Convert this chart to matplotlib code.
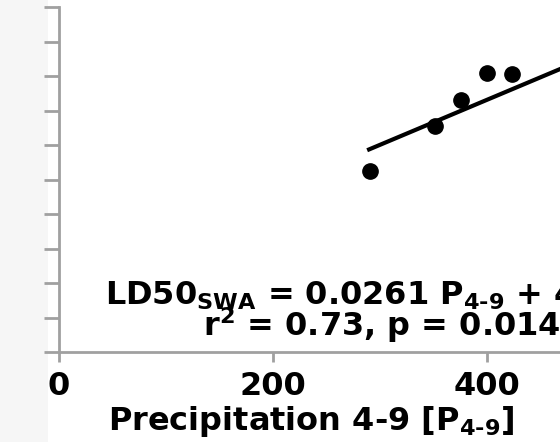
import numpy as np
import matplotlib
matplotlib.use('Agg')
import matplotlib.pyplot as plt
from matplotlib.patches import Rectangle

# precipitation Apr-Sep (mm) vs LD50 of SWA
precip = [291, 351, 376, 400, 423]
ld50 = [10.5, 13.1, 14.6, 16.2, 16.1]

slope = 0.0261
intercept = 4.18
fit_x = [288, 600]

x_ticks = [0, 200, 400, 600]
y_ticks = list(range(0, 22, 2))

eq_text = r'LD50$_{\mathregular{SWA}}$ = 0.0261 P$_{\mathregular{4\text{-}9}}$ + 4.18'
stat_text = r'r$^{\mathregular{2}}$ = 0.73, p = 0.014'
xlab = r'Precipitation 4-9 [P$_{\mathregular{4\text{-}9}}$]'

fs = 23

plt.rcParams['font.family'] = ['DejaVu Sans']
plt.rcParams['font.weight'] = 'bold'
plt.rcParams['mathtext.default'] = 'regular'

fig = plt.figure(figsize=(5.6, 4.42), dpi=100)
fig.patches.append(Rectangle((0, 0), 48 / 560, 1, transform=fig.transFigure,
                             facecolor='#f6f6f6', edgecolor='none', zorder=-1))

# axes runs past the right edge, the reference is a crop
ax = fig.add_axes([59 / 560, (442 - 352) / 442, 642 / 560, 345 / 442])
ax.patch.set_alpha(0)

fit_y = [slope * v + intercept for v in fit_x]
ax.plot(fit_x, fit_y, color='black', lw=3, solid_capstyle='butt', zorder=2)
ax.plot(precip, ld50, 'o', color='black', ms=11, zorder=3)

ax.set_xlim(0, 600)
ax.set_ylim(0, 20)
ax.set_xticks(x_ticks)
ax.set_yticks(y_ticks)
ax.set_yticklabels([])

for s in ['top', 'right']:
    ax.spines[s].set_visible(False)
for s in ['left', 'bottom']:
    ax.spines[s].set_color('#a0a0a0')
    ax.spines[s].set_linewidth(2)

ax.tick_params(axis='y', direction='out', length=11, width=2, color='#a0a0a0')
ax.tick_params(axis='x', direction='out', length=7, width=2, color='#a0a0a0',
               labelsize=fs, pad=7)
for t in ax.get_xticklabels():
    t.set_fontweight('bold')

ax.set_xlabel(xlab, fontsize=fs, fontweight='bold')
ax.xaxis.label.set_horizontalalignment('left')
ax.xaxis.set_label_coords((108 - 59) / 642, (352 - 404) / 345)

fig.text(105 / 560, 1 - 305 / 442, eq_text, fontsize=fs, fontweight='bold',
         ha='left', va='baseline')
fig.text(203 / 560, 1 - 336 / 442, stat_text, fontsize=fs, fontweight='bold',
         ha='left', va='baseline')

fig.savefig('out.png', dpi=100)
